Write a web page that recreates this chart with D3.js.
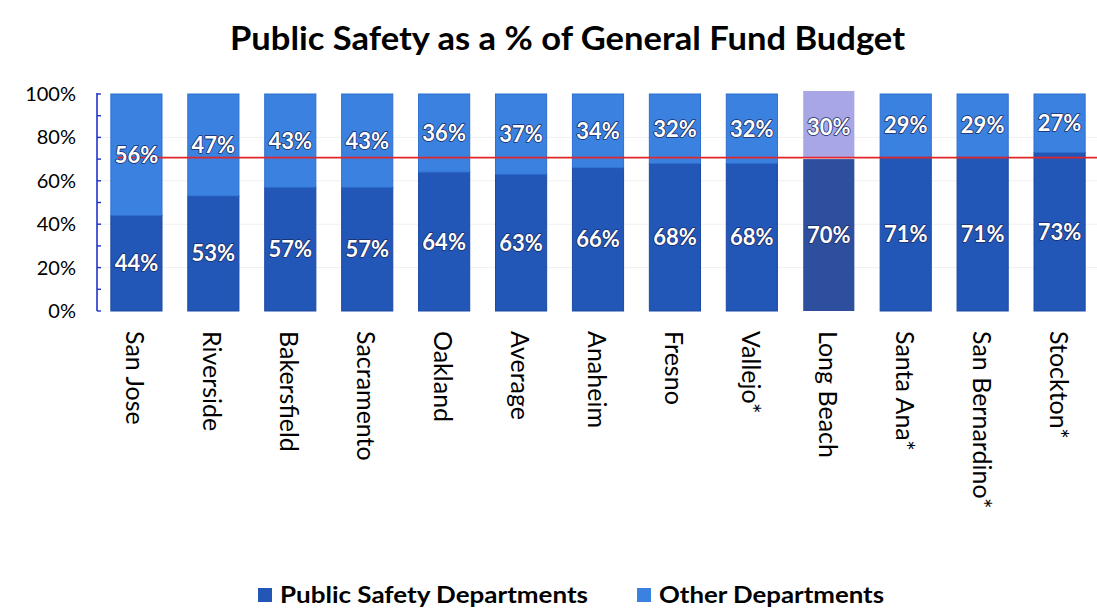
<!DOCTYPE html>
<html><head><meta charset="utf-8">
<script src="https://cdn.jsdelivr.net/npm/d3@7/dist/d3.min.js"></script>
<style>body{margin:0;background:#fff}svg{display:block}</style>
</head><body>
<svg id="c" width="1097" height="610"></svg>
<script>
const categories = ["San Jose","Riverside","Bakersfield","Sacramento","Oakland","Average","Anaheim","Fresno","Vallejo*","Long Beach","Santa Ana*","San Bernardino*","Stockton*"];
const publicSafety = [44,53,57,57,64,63,66,68,68,70,71,71,73];
const otherDepts = [56,47,43,43,36,37,34,32,32,30,29,29,27];
const yTicks = [0,20,40,60,80,100];
const refLineValue = 70.7;
const seriesNames = ["Public Safety Departments","Other Departments"];

const svg = d3.select("#c");
const font = "Lato, 'Open Sans', sans-serif";
const x = d3.scaleBand().domain(categories).range([98,1098]).paddingInner(0.335).paddingOuter(0.167);
const y = d3.scaleLinear().domain([0,100]).range([311,94]);
const cDark = "#2257b8", cLight = "#3b82e0";

// title
svg.append("text").attr("x",230).attr("y",50)
  .attr("font-family",font).attr("font-weight","bold").attr("font-size",32).attr("fill","#000")
  .attr("textLength",675).attr("lengthAdjust","spacingAndGlyphs")
  .text("Public Safety as a % of General Fund Budget");

// faint grid
svg.append("g").selectAll("line").data(yTicks.slice(1,5)).join("line")
  .attr("x1",98).attr("x2",1097).attr("y1",d=>y(d)).attr("y2",d=>y(d))
  .attr("stroke","#f0f0f0").attr("stroke-width",1);

const data = categories.map((c,i)=>({c, ps:publicSafety[i], ot:otherDepts[i]}));
const bars = svg.append("g");
bars.selectAll("rect.ps").data(data).join("rect").attr("class","ps")
  .attr("x",d=>x(d.c)).attr("width",x.bandwidth())
  .attr("y",d=>y(d.ps)).attr("height",d=>y(0)-y(d.ps))
  .attr("fill",d=>d.c==="Long Beach"?"#2e4f9d":cDark)
  .attr("stroke",d=>d.c==="Long Beach"?"none":"#1c4aa3").attr("stroke-width",1);
bars.selectAll("rect.ot").data(data).join("rect").attr("class","ot")
  .attr("x",d=>x(d.c)).attr("width",x.bandwidth())
  .attr("y",d=>y(d.ps+d.ot)-(d.c==="Long Beach"?3:0)).attr("height",d=>y(d.ps)-y(d.ps+d.ot)+(d.c==="Long Beach"?1:0))
  .attr("fill",d=>d.c==="Long Beach"?"#a8a6e4":cLight)
  .attr("stroke",d=>d.c==="Long Beach"?"none":"#2f6fcf").attr("stroke-width",1);

// red line
svg.append("line").attr("x1",118).attr("x2",1097).attr("y1",y(refLineValue)).attr("y2",y(refLineValue))
  .attr("stroke","#e0262a").attr("stroke-width",1.6);

// labels
const lab = svg.append("g").attr("font-family",font).attr("font-weight","bold").attr("font-size",22)
  .attr("fill","#fff").attr("text-anchor","middle").attr("stroke","#1a2c66").attr("stroke-width",1.6)
  .attr("paint-order","stroke").attr("stroke-linejoin","round");
lab.selectAll("text.ps").data(data).join("text").attr("class","ps")
  .attr("x",d=>x(d.c)+x.bandwidth()/2).attr("y",d=>y(d.ps/2)+8).text(d=>d.ps+"%");
lab.selectAll("text.ot").data(data).join("text").attr("class","ot")
  .attr("x",d=>x(d.c)+x.bandwidth()/2).attr("y",d=>y(d.ps+d.ot/2)+8).text(d=>d.ot+"%");

// y axis
const ax = svg.append("g");
ax.append("line").attr("x1",97).attr("x2",97).attr("y1",y(100)-1).attr("y2",y(0)).attr("stroke","#2233cc").attr("stroke-width",1.6);
ax.selectAll("line.t").data(d3.range(0,101,10)).join("line").attr("class","t")
  .attr("x1",97).attr("x2",101).attr("y1",d=>y(d)).attr("y2",d=>y(d)).attr("stroke","#2233cc").attr("stroke-width",1.4);
ax.selectAll("text").data(yTicks).join("text")
  .attr("x",76).attr("y",d=>y(d)+7).attr("text-anchor","end")
  .attr("font-family",font).attr("font-size",20).attr("fill","#000").text(d=>d+"%");

// x labels
svg.append("g").selectAll("text").data(categories).join("text")
  .attr("transform",d=>`translate(${x(d)+x.bandwidth()/2-10},331) rotate(90)`)
  .attr("font-family",font).attr("font-size",25).attr("fill","#000").attr("text-anchor","start")
  .text(d=>d);

// legend
const lg = svg.append("g").attr("font-family",font).attr("font-weight","bold").attr("font-size",23);
const legX = [258, 637];
const legW = [308, 225];
const legC = [cDark, cLight];
seriesNames.forEach((n,i)=>{
  lg.append("rect").attr("x",legX[i]).attr("y",588).attr("width",14).attr("height",14).attr("fill",legC[i]);
  lg.append("text").attr("x",legX[i]+22).attr("y",603).attr("fill","#000")
    .attr("textLength",legW[i]).attr("lengthAdjust","spacingAndGlyphs").text(n);
});
</script>
</body></html>
